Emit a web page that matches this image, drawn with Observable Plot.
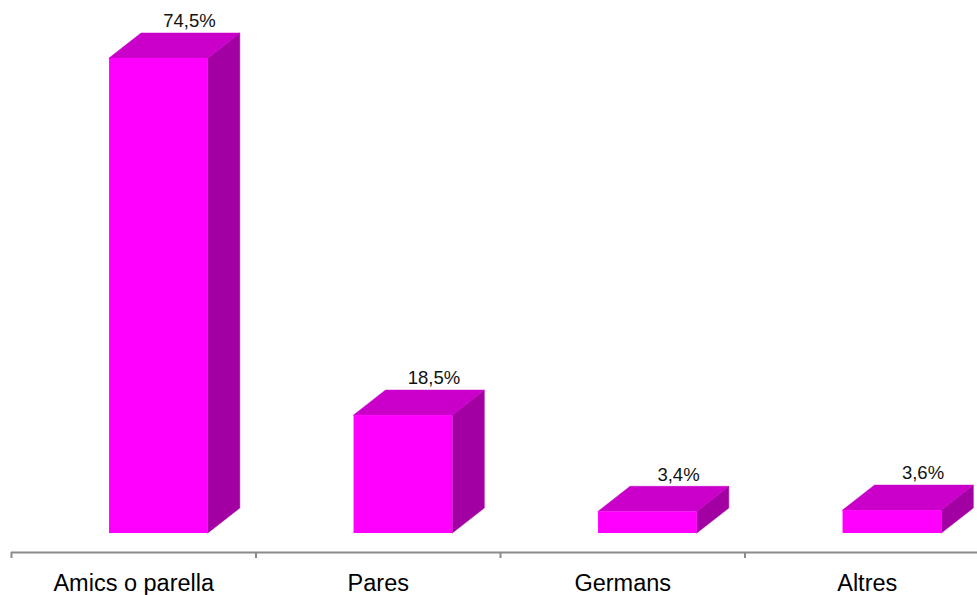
<!DOCTYPE html>
<html>
<head>
<meta charset="utf-8">
<script src="https://cdn.jsdelivr.net/npm/d3@7"></script>
<script src="https://cdn.jsdelivr.net/npm/@observablehq/plot@0.6"></script>
<style>
  html, body { margin: 0; padding: 0; background: #fff; }
  #chart svg { display: block; }
</style>
</head>
<body>
<div id="chart"></div>
<script>
// ---- data ----
const categories = ["Amics o parella", "Pares", "Germans", "Altres"];
const values = [74.5, 18.5, 3.4, 3.6];
const valueLabels = ["74,5%", "18,5%", "3,4%", "3,6%"];

// ---- layout constants (pixels) ----
const W = 977, H = 595;
const yZeroPx = 533, yTopPx = 58;           // y(0), y(74.5)
const pxPerUnit = (yZeroPx - yTopPx) / 74.5;
const xLeftPx = 11, catPx = 244.5;          // category band start & width
const depthXpx = 32, depthYpx = 25;         // 3D offset
const dxU = depthXpx / catPx;
const dyU = depthYpx / pxPerUnit;
const frontL = 0.401, frontR = 0.805;       // front face within band
const axisY = -19 / pxPerUnit;              // axis line below the floor
const tickLen = 6 / pxPerUnit;

const FRONT = "#FF00FF", TOP = "#CA00CA", SIDE = "#A300A3";

const bars = categories.map((c, i) => ({c, i, v: values[i], label: valueLabels[i]}));
const sidePts = bars.flatMap(d => [
  {c: d.c, x: d.i + frontR, y1: 0, y2: d.v},
  {c: d.c, x: d.i + frontR + dxU, y1: dyU, y2: d.v + dyU}
]);
const topPts = bars.flatMap(d => [
  {c: d.c, y: d.v, x1: d.i + frontL, x2: d.i + frontR},
  {c: d.c, y: d.v + dyU, x1: d.i + frontL + dxU, x2: d.i + frontR + dxU}
]);

const chart = Plot.plot({
  width: W,
  height: H,
  margin: 0,
  x: {domain: [0, categories.length], range: [xLeftPx, xLeftPx + catPx * categories.length], axis: null},
  y: {domain: [0, 74.5], range: [yZeroPx, yTopPx], axis: null},
  marks: [
    Plot.areaY(sidePts, {x: "x", y1: "y1", y2: "y2", z: "c", fill: SIDE, stroke: SIDE, strokeWidth: 0.5}),
    Plot.areaX(topPts, {y: "y", x1: "x1", x2: "x2", z: "c", fill: TOP, stroke: TOP, strokeWidth: 0.5}),
    Plot.rectY(bars, {x1: d => d.i + frontL, x2: d => d.i + frontR, y1: 0, y2: "v", fill: FRONT}),
    Plot.text(bars, {x: d => d.i + 0.728, y: d => d.v + dyU, text: "label", dy: -12,
      fontSize: 18.5, fill: "#111", fontFamily: "Liberation Sans, Arial, sans-serif"}),
    Plot.ruleY([axisY], {x1: 0, x2: categories.length, stroke: "#8a8a8a", strokeWidth: 2}),
    Plot.ruleX(d3.range(categories.length + 1), {x: d => d, y1: axisY, y2: axisY - tickLen, stroke: "#8a8a8a", strokeWidth: 2}),
    Plot.text(bars, {x: d => d.i + 0.5, y: axisY, text: "c", dy: 31,
      fontSize: 23.5, fill: "#000", fontFamily: "Liberation Sans, Arial, sans-serif"})
  ]
});
document.getElementById("chart").appendChild(chart);
</script>
</body>
</html>
